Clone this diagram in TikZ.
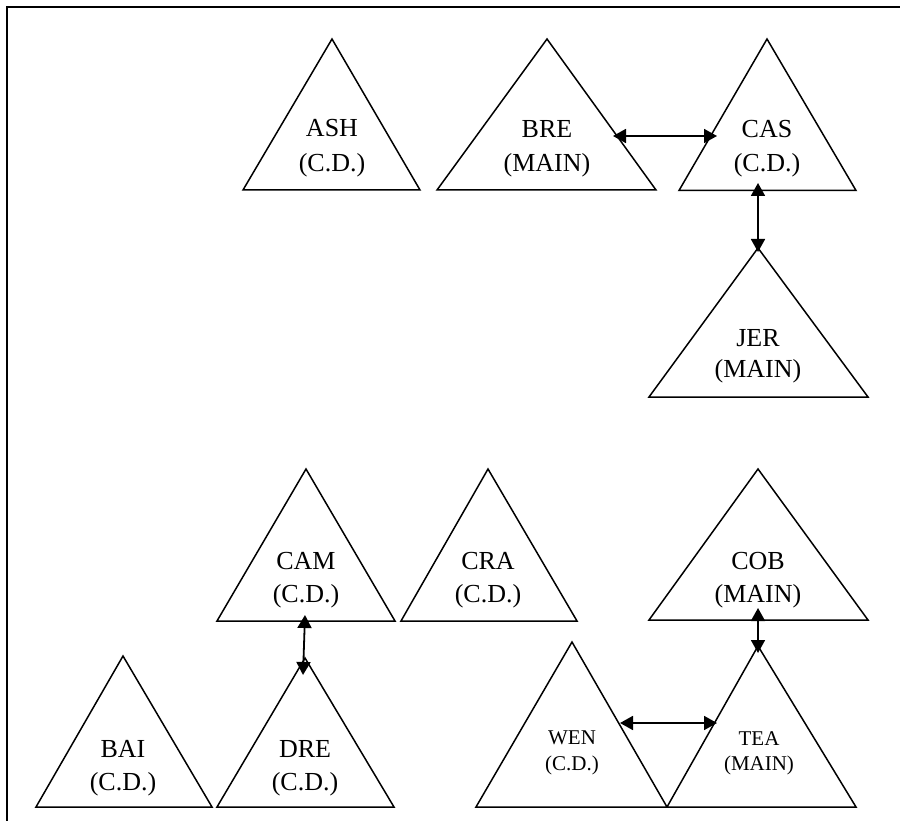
\documentclass[tikz,border=0pt]{standalone}
\usepackage{fontspec}
\setmainfont{Liberation Serif}
\usetikzlibrary{arrows.meta}
\begin{document}
\begin{tikzpicture}[x=1pt,y=-1pt,
  tri/.style={draw=black, line width=1.5pt, line join=miter},
  lbl/.style={font=\fontsize{26}{32}\selectfont, inner sep=0pt, anchor=base},
  slbl/.style={font=\fontsize{21}{26}\selectfont, inner sep=0pt, anchor=base},
  link/.style={line width=1.8pt, {Triangle[length=13pt,width=14pt]}-{Triangle[length=13pt,width=14pt]}},
  frameline/.style={line width=1.6pt}]
\useasboundingbox (0,0) rectangle (900,821);
% frame (top and left only)
\coordinate (fbl) at (7,821);
\coordinate (ftl) at (7,7);
\coordinate (ftr) at (900,7);
\draw[frameline] (fbl) -- (ftl) -- (ftr);

% triangles
\draw[tri] (332,39) -- (420,190) -- (243,190) -- cycle;   % ASH
\draw[tri] (547,39) -- (656,190) -- (437,190) -- cycle;   % BRE
\draw[tri] (767,39) -- (856,190.5) -- (679,190.5) -- cycle; % CAS
\draw[tri] (758,248) -- (868,397) -- (649,397) -- cycle;  % JER
\draw[tri] (306,469) -- (395,621) -- (217,621) -- cycle;  % CAM
\draw[tri] (488,469) -- (577,621) -- (401,621) -- cycle;  % CRA
\draw[tri] (758,469) -- (868,620) -- (649,620) -- cycle;  % COB
\draw[tri] (123,656) -- (212,807) -- (36,807) -- cycle;   % BAI
\draw[tri] (305,658) -- (394,807) -- (217,807) -- cycle;  % DRE
\draw[tri] (572,642) -- (667,807) -- (476,807) -- cycle;  % WEN
\draw[tri] (758,646) -- (856,807) -- (667,807) -- cycle;  % TEA

% labels
\node[lbl] (ash1) at (332,137) {ASH};
\node[lbl] (ash2) at (332,172) {(C.D.)};
\node[lbl] (bre1) at (547,138) {BRE};
\node[lbl] (bre2) at (547,172) {(MAIN)};
\node[lbl] (cas1) at (767,138) {CAS};
\node[lbl] (cas2) at (767,172) {(C.D.)};
\node[lbl] (jer1) at (758,346) {JER};
\node[lbl] (jer2) at (758,377) {(MAIN)};
\node[lbl] (cam1) at (306,569) {CAM};
\node[lbl] (cam2) at (306,602) {(C.D.)};
\node[lbl] (cra1) at (488,569) {CRA};
\node[lbl] (cra2) at (488,602) {(C.D.)};
\node[lbl] (cob1) at (758,569) {COB};
\node[lbl] (cob2) at (758,602) {(MAIN)};
\node[lbl] (bai1) at (123,757) {BAI};
\node[lbl] (bai2) at (123,790) {(C.D.)};
\node[lbl] (dre1) at (305,757) {DRE};
\node[lbl] (dre2) at (305,790) {(C.D.)};
\node[slbl] (wen1) at (572,744) {WEN};
\node[slbl] (wen2) at (572,770) {(C.D.)};
\node[slbl] (tea1) at (759,745) {TEA};
\node[slbl] (tea2) at (759,770) {(MAIN)};

% connector end points
\coordinate (breE) at (613,136);
\coordinate (casW) at (717,136);
\coordinate (casS) at (758,183);
\coordinate (jerN) at (758,252);
\coordinate (camS) at (305,615);
\coordinate (dreN) at (303,675);
\coordinate (cobS) at (758,608);
\coordinate (teaN) at (758,653);
\coordinate (wenE) at (620,723);
\coordinate (teaW) at (717,723);

\draw[link] (breE) -- (casW);
\draw[link] (casS) -- (jerN);
\draw[link] (camS) -- (dreN);
\draw[link] (cobS) -- (teaN);
\draw[link] (wenE) -- (teaW);
\end{tikzpicture}
\end{document}
